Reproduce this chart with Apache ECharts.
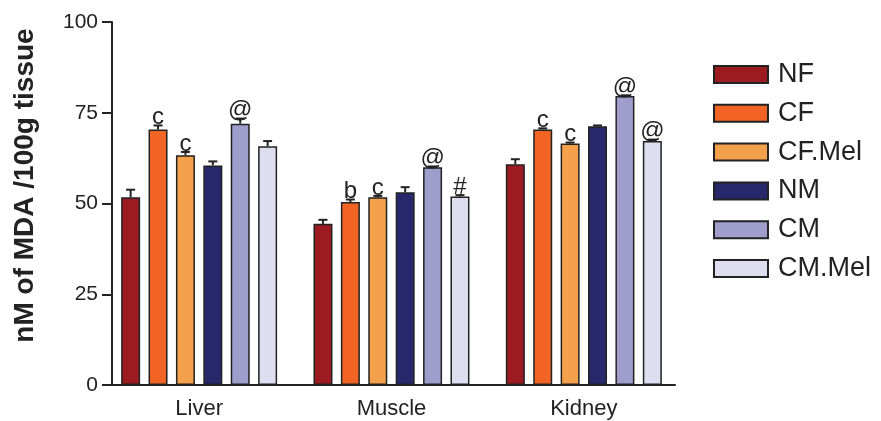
<!DOCTYPE html>
<html>
<head>
<meta charset="utf-8">
<script src="https://cdn.jsdelivr.net/npm/echarts@6/dist/echarts.min.js"></script>
<style>
  html, body { margin: 0; padding: 0; background: #fff; }
  #chart { width: 881px; height: 421px; }
</style>
</head>
<body>
<div id="chart"></div>
<script>
// Tissues on the x axis
const tissues = ['Liver', 'Muscle', 'Kidney'];

// Group names (legend order)
const groups = ['NF', 'CF', 'CF.Mel', 'NM', 'CM', 'CM.Mel'];

// Mean MDA (nM /100g tissue) per group, in tissue order Liver, Muscle, Kidney
const NF    = [51.7, 44.4, 60.8];
const CF    = [70.4, 50.4, 70.4];
const CFMel = [63.3, 51.7, 66.5];
const NM    = [60.5, 53.1, 71.3];
const CM    = [72.0, 60.0, 79.6];
const CMMel = [65.8, 51.9, 67.2];

// Upper end of the error bars
const NF_err    = [53.8, 45.5, 62.2];
const CF_err    = [71.5, 51.1, 70.7];
const CFMel_err = [64.2, 52.1, 66.8];
const NM_err    = [61.6, 54.5, 71.5];
const CM_err    = [73.4, 60.2, 79.8];
const CMMel_err = [67.2, 52.3, 67.6];

// Significance marks above the bars
const NF_sig    = ['', '', ''];
const CF_sig    = ['c', 'b', 'c'];
const CFMel_sig = ['c', 'c', 'c'];
const NM_sig    = ['', '', ''];
const CM_sig    = ['@', '@', '@'];
const CMMel_sig = ['', '#', '@'];

// Y axis ticks
const yTicks = [0, 25, 50, 75, 100];

const means = [NF, CF, CFMel, NM, CM, CMMel];
const errs  = [NF_err, CF_err, CFMel_err, NM_err, CM_err, CMMel_err];
const sigs  = [NF_sig, CF_sig, CFMel_sig, NM_sig, CM_sig, CMMel_sig];
const colors = ['#9b1b21', '#f26424', '#f5a14b', '#27286b', '#9e9dcc', '#dfdef1'];

const BAR_W = 19;
const BAR_STEP = 27.4;   // bar width + gap
const INK = '#222';
const FONT = 'Liberation Sans, Arial, sans-serif';

const barSeries = groups.map((g, i) => ({
  name: g,
  type: 'bar',
  barWidth: BAR_W,
  barGap: ((BAR_STEP - BAR_W) / BAR_W * 100).toFixed(1) + '%',
  itemStyle: { color: colors[i], borderColor: INK, borderWidth: 1.5 },
  data: means[i].map((v, k) => [k, v]),
  z: 2
}));

// Error bars and significance letters drawn on top of each bar
const errSeries = groups.map((g, i) => ({
  name: g + ' err',
  type: 'custom',
  data: means[i].map((v, k) => [k, v, errs[i][k], sigs[i][k]]),
  encode: { x: 0, y: 1 },
  z: 5,
  silent: true,
  renderItem: function (params, api) {
    const off = (i - (groups.length - 1) / 2) * BAR_STEP;
    const base = api.coord([api.value(0), api.value(1)]);
    const top = api.coord([api.value(0), api.value(2)]);
    const x = base[0] + off;
    const cap = 4.5;
    const children = [
      { type: 'line', shape: { x1: x, y1: base[1], x2: x, y2: top[1] },
        style: { stroke: INK, lineWidth: 2 } },
      { type: 'line', shape: { x1: x - cap, y1: top[1], x2: x + cap, y2: top[1] },
        style: { stroke: INK, lineWidth: 2 } }
    ];
    const label = sigs[i][params.dataIndex];
    if (label) {
      children.push({
        type: 'text',
        style: {
          x: x, y: top[1] + 4, text: label,
          align: 'center', verticalAlign: 'bottom',
          fontFamily: FONT, fontSize: 24, fill: INK
        }
      });
    }
    return { type: 'group', children: children };
  }
}));

const chart = echarts.init(document.getElementById('chart'), null, { renderer: 'canvas' });
chart.setOption({
  animation: false,
  textStyle: { fontFamily: FONT },
  grid: { left: 112, right: 206, top: 22, bottom: 36, containLabel: false },
  legend: {
    orient: 'vertical',
    left: 713,
    top: 61,
    padding: 0,
    icon: 'rect',
    itemWidth: 54,
    itemHeight: 17,
    itemGap: 11.8,
    data: groups,
    textStyle: { fontSize: 27, color: INK, lineHeight: 26, padding: [0, 0, 0, 5] }
  },
  xAxis: {
    type: 'value',
    min: -0.453,
    max: 2.474,
    splitLine: { show: false },
    axisLine: { show: true, onZero: false, lineStyle: { color: INK, width: 2 } },
    axisTick: { show: false },
    axisLabel: {
      customValues: [0, 1, 2],
      formatter: v => tissues[Math.round(v)],
      fontSize: 22, color: INK, margin: 13
    }
  },
  yAxis: {
    type: 'value',
    min: yTicks[0],
    max: yTicks[yTicks.length - 1],
    interval: 25,
    name: 'nM of MDA /100g tissue',
    nameLocation: 'middle',
    nameGap: 73,
    nameTextStyle: { fontSize: 28, fontWeight: 'bold', color: INK, padding: [0, 0, 0, 36] },
    splitLine: { show: false },
    axisLine: { show: true, onZero: false, lineStyle: { color: INK, width: 2 } },
    axisTick: { show: true, length: 10, lineStyle: { color: INK, width: 2 } },
    axisLabel: { fontSize: 21, color: INK, margin: 14 }
  },
  series: barSeries.concat(errSeries)
});
</script>
</body>
</html>
